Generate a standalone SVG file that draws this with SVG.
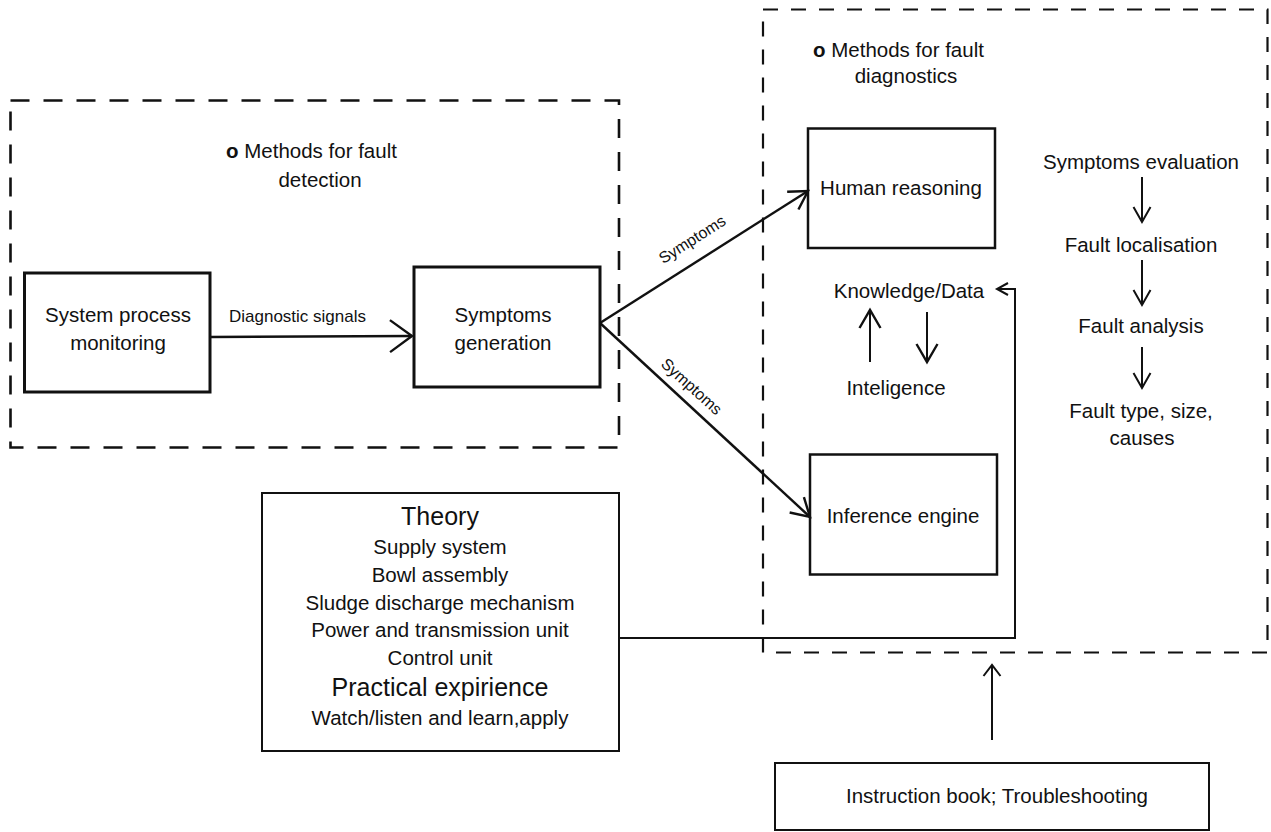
<svg xmlns="http://www.w3.org/2000/svg" width="1271" height="832" viewBox="0 0 1271 832">
<style>
text{font-family:"Liberation Sans",Arial,sans-serif;font-size:20.5px;fill:#111}
.c{text-anchor:middle}
.big{font-size:25px}
.sm{font-size:17px}
.lab{font-size:16px}
.b{font-weight:bold}
.box{fill:#fff;stroke:#111;stroke-width:3}
.box2{fill:#fff;stroke:#111;stroke-width:2.5}
.box3{fill:none;stroke:#111;stroke-width:2}
.dashL{fill:none;stroke:#111;stroke-width:2.6;stroke-dasharray:19 14}
.dashR{fill:none;stroke:#111;stroke-width:2.2;stroke-dasharray:15 13}
.ln{fill:none;stroke:#111;stroke-width:2.4}
.ln2{fill:none;stroke:#111;stroke-width:2}
.ah{fill:none;stroke:#111;stroke-width:2.4;stroke-linejoin:miter}
</style>
<defs>
<marker id="aBig" markerUnits="userSpaceOnUse" orient="auto" refX="0" refY="0" markerWidth="60" markerHeight="60" viewBox="-30 -30 60 60" overflow="visible"><path class="ah" d="M-22,-16 L0,0 L-22,16"/></marker>
<marker id="aMed" markerUnits="userSpaceOnUse" orient="auto" refX="0" refY="0" markerWidth="60" markerHeight="60" viewBox="-30 -30 60 60" overflow="visible"><path class="ah" d="M-18,-10.5 L0,0 L-18,10.5"/></marker>
<marker id="aSm" markerUnits="userSpaceOnUse" orient="auto" refX="0" refY="0" markerWidth="60" markerHeight="60" viewBox="-30 -30 60 60" overflow="visible"><path class="ah" style="stroke-width:2" d="M-15,-8.5 L0,0 L-15,8.5"/></marker>
<marker id="aUp" markerUnits="userSpaceOnUse" orient="auto" refX="0" refY="0" markerWidth="60" markerHeight="60" viewBox="-30 -30 60 60" overflow="visible"><path class="ah" style="stroke-width:2" d="M-11,-8.5 L0,0 L-11,8.5"/></marker>
<marker id="aTiny" markerUnits="userSpaceOnUse" orient="auto" refX="0" refY="0" markerWidth="60" markerHeight="60" viewBox="-30 -30 60 60" overflow="visible"><path class="ah" style="stroke-width:2" d="M-11,-6 L0,0 L-11,6"/></marker>
</defs>
<rect width="1271" height="832" fill="#fff"/>

<g id="detection-group">
<rect class="dashL" x="10.5" y="100.5" width="608.5" height="347"/>
<text x="226" y="158"><tspan class="b">o</tspan> Methods for fault</text>
<text class="c" x="320" y="187">detection</text>
</g>

<g id="diagnostics-group">
<rect class="dashR" x="763" y="9.5" width="504.5" height="643"/>
<text x="813" y="57"><tspan class="b">o</tspan> Methods for fault</text>
<text class="c" x="906" y="83">diagnostics</text>
</g>

<g id="system-process">
<rect class="box" x="24.5" y="273" width="185.5" height="119"/>
<text class="c" x="118" y="322">System process</text>
<text class="c" x="118" y="350">monitoring</text>
</g>

<g id="symptoms-generation">
<rect class="box" x="414" y="267" width="186" height="120"/>
<text class="c" x="503" y="322">Symptoms</text>
<text class="c" x="503" y="350">generation</text>
</g>

<g id="human-reasoning">
<rect class="box2" x="808" y="128.5" width="187" height="119.5"/>
<text class="c" x="901" y="195">Human reasoning</text>
</g>

<g id="inference-engine">
<rect class="box2" x="810" y="454.5" width="187" height="120"/>
<text class="c" x="903" y="523">Inference engine</text>
</g>

<g id="knowledge">
<text class="c" x="909" y="298">Knowledge/Data</text>
<text class="c" x="896" y="395">Inteligence</text>
</g>

<g id="evaluation-chain">
<text class="c" x="1141" y="169">Symptoms evaluation</text>
<text class="c" x="1141" y="252">Fault localisation</text>
<text class="c" x="1141" y="333">Fault analysis</text>
<text class="c" x="1141" y="418">Fault type, size,</text>
<text class="c" x="1142" y="445">causes</text>
</g>

<g id="theory">
<rect class="box3" x="262" y="493" width="357" height="258"/>
<text class="c big" x="440" y="525">Theory</text>
<text class="c" x="440" y="554">Supply system</text>
<text class="c" x="440" y="582">Bowl assembly</text>
<text class="c" x="440" y="610">Sludge discharge mechanism</text>
<text class="c" x="440" y="637">Power and transmission unit</text>
<text class="c" x="440" y="665">Control unit</text>
<text class="c big" x="440" y="696">Practical expirience</text>
<text class="c" x="440" y="725">Watch/listen and learn,apply</text>
</g>

<g id="instruction-book">
<rect class="box3" x="775" y="763" width="434" height="67"/>
<text x="846" y="803">Instruction book; Troubleshooting</text>
</g>

<g id="connectors">
<line class="ln" x1="210" y1="337" x2="412" y2="336" marker-end="url(#aBig)"/>
<text class="sm" x="229" y="322">Diagnostic signals</text>
<line class="ln" x1="600" y1="323" x2="808" y2="191" marker-end="url(#aMed)"/>
<text class="lab c" transform="translate(692,239) rotate(-32.5)" y="6">Symptoms</text>
<line class="ln" x1="600" y1="323" x2="810" y2="517" marker-end="url(#aMed)"/>
<text class="lab c" transform="translate(692,386) rotate(42)" y="6">Symptoms</text>
<line class="ln2" x1="1142" y1="177" x2="1142" y2="222" marker-end="url(#aSm)"/>
<line class="ln2" x1="1142" y1="260" x2="1142" y2="305" marker-end="url(#aSm)"/>
<line class="ln2" x1="1142" y1="347" x2="1142" y2="388" marker-end="url(#aSm)"/>
<line class="ln2" x1="870" y1="362" x2="870" y2="310" marker-end="url(#aMed)"/>
<line class="ln2" x1="927" y1="312" x2="927" y2="362" marker-end="url(#aMed)"/>
<path class="ln2" d="M619,638 H1015 V289 H997" marker-end="url(#aTiny)"/>
<line class="ln2" x1="992" y1="740" x2="992" y2="665" marker-end="url(#aUp)"/>
</g>
</svg>
